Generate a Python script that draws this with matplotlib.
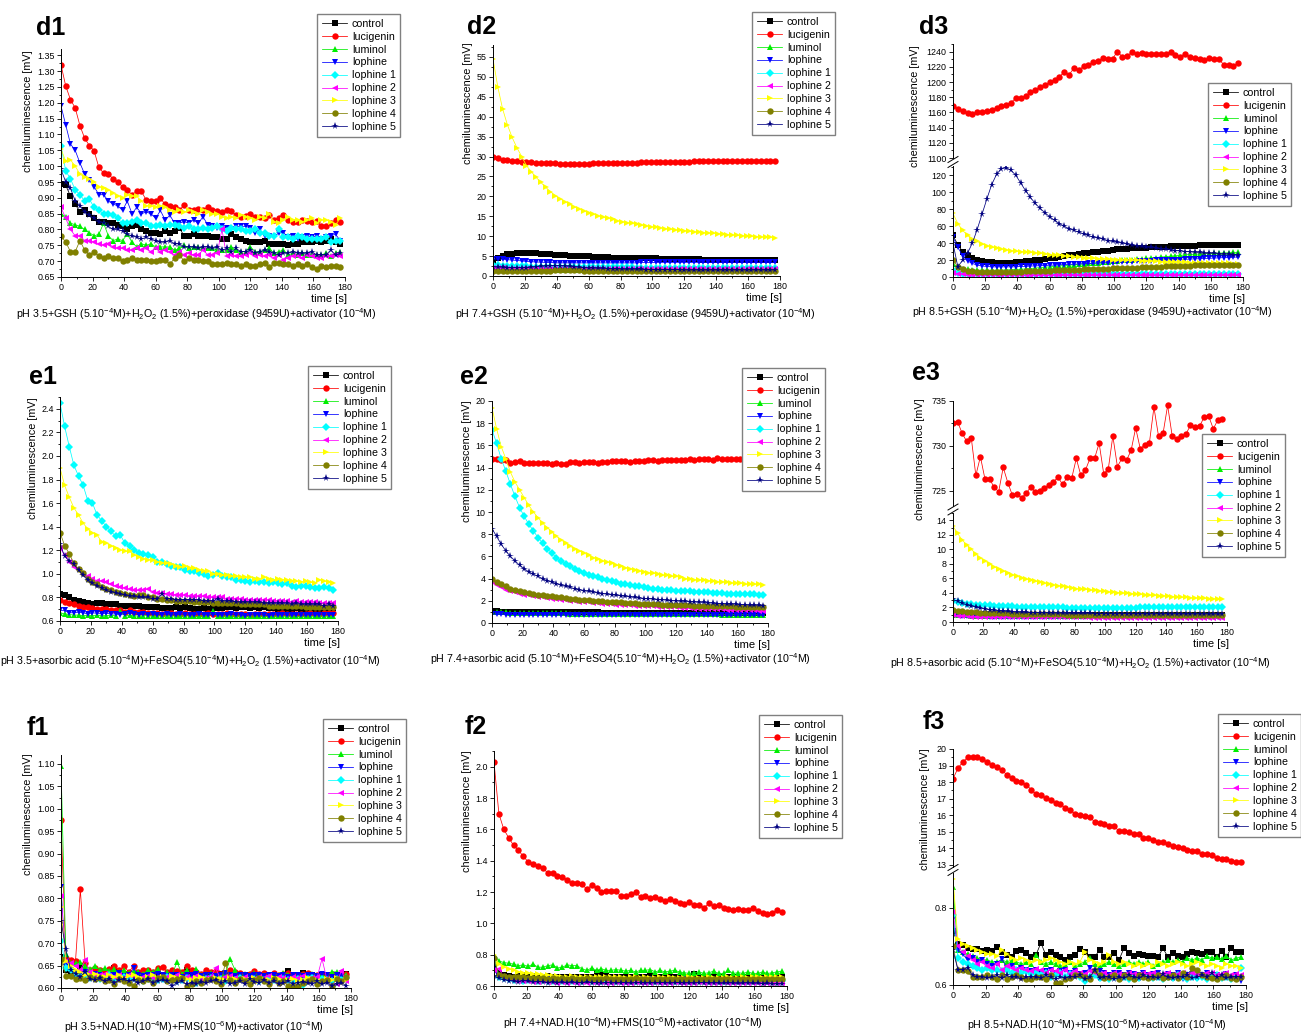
import numpy as np
import matplotlib.pyplot as plt
from matplotlib.lines import Line2D
from matplotlib.ticker import MultipleLocator

plt.rcParams['font.family'] = ['Liberation Sans', 'DejaVu Sans']
plt.rcParams['mathtext.default'] = 'regular'
plt.rcParams['axes.formatter.useoffset'] = False

W, H = 1301, 1035

names = ['control', 'lucigenin', 'luminol', 'lophine', 'lophine 1',
         'lophine 2', 'lophine 3', 'lophine 4', 'lophine 5']
colors = ['#000000', '#ff0000', '#00ee00', '#0000ff', '#00ffff',
          '#ff00ff', '#ffff00', '#808000', '#000080']
markers = ['s', 'o', '^', 'v', 'D', '<', '>', 'o', '*']
msizes = [4.2, 4.6, 4.6, 4.6, 4.0, 4.6, 4.6, 4.6, 5.6]

# ---------------- d1 ----------------
d1_control = [0.945,0.940,0.905,0.880,0.855,0.860,0.850,0.835,0.825,0.825,
              0.820,0.820,0.815,0.810,0.800,0.810,0.815,0.800,0.795,0.790,
              0.790,0.785,0.795,0.790,0.795,0.805,0.780,0.780,0.785,0.780,
              0.780,0.780,0.775,0.775,0.770,0.770,0.785,0.775,0.770,0.765,
              0.760,0.760,0.760,0.765,0.755,0.755,0.755,0.755,0.750,0.755,
              0.755,0.760,0.760,0.760,0.765,0.760,0.765,0.770,0.760,0.755]
d1_lucigenin = [1.320,1.253,1.210,1.184,1.128,1.088,1.065,1.048,0.996,0.978,
                0.975,0.960,0.950,0.935,0.925,0.910,0.920,0.920,0.893,0.890,
                0.890,0.898,0.880,0.875,0.870,0.860,0.878,0.860,0.860,0.865,
                0.860,0.872,0.862,0.858,0.855,0.862,0.858,0.845,0.840,0.842,
                0.850,0.840,0.840,0.835,0.845,0.830,0.835,0.845,0.830,0.825,
                0.823,0.830,0.828,0.823,0.828,0.810,0.812,0.820,0.830,0.825]
d1_luminol = [0.850,0.840,0.820,0.815,0.810,0.800,0.790,0.780,0.785,0.820,
              0.780,0.765,0.770,0.765,0.785,0.760,0.745,0.755,0.750,0.755,
              0.745,0.745,0.745,0.745,0.735,0.740,0.750,0.740,0.745,0.745,
              0.740,0.740,0.740,0.735,0.735,0.735,0.745,0.735,0.730,0.730,
              0.745,0.730,0.730,0.735,0.740,0.725,0.730,0.735,0.720,0.725,
              0.720,0.725,0.720,0.720,0.720,0.720,0.725,0.715,0.725,0.730]
d1_lophine = [1.190,1.130,1.070,1.050,1.010,0.975,0.955,0.935,0.910,0.910,
              0.890,0.880,0.875,0.860,0.890,0.850,0.870,0.850,0.855,0.850,
              0.835,0.860,0.830,0.845,0.820,0.820,0.825,0.820,0.830,0.820,
              0.840,0.815,0.810,0.805,0.810,0.805,0.800,0.810,0.810,0.810,
              0.805,0.790,0.800,0.780,0.780,0.775,0.790,0.790,0.775,0.780,
              0.770,0.775,0.780,0.775,0.780,0.770,0.775,0.780,0.785,0.765]
d1_lophine1 = [1.065,0.985,0.960,0.925,0.910,0.890,0.895,0.870,0.860,0.850,
               0.850,0.845,0.835,0.820,0.820,0.825,0.830,0.820,0.820,0.810,
               0.810,0.815,0.810,0.815,0.815,0.810,0.805,0.810,0.800,0.800,
               0.805,0.800,0.805,0.810,0.800,0.795,0.805,0.800,0.800,0.795,
               0.795,0.800,0.790,0.790,0.780,0.780,0.800,0.775,0.775,0.770,
               0.780,0.775,0.770,0.770,0.770,0.770,0.775,0.760,0.765,0.765]
d1_lophine2 = [0.870,0.835,0.800,0.780,0.780,0.765,0.765,0.760,0.755,0.750,
               0.755,0.745,0.740,0.740,0.735,0.735,0.740,0.735,0.740,0.730,
               0.740,0.730,0.735,0.730,0.720,0.730,0.720,0.725,0.720,0.720,
               0.735,0.720,0.720,0.725,0.800,0.715,0.720,0.715,0.715,0.720,
               0.725,0.715,0.720,0.715,0.720,0.710,0.720,0.705,0.710,0.715,
               0.715,0.710,0.720,0.715,0.710,0.710,0.715,0.715,0.720,0.715]
d1_lophine3 = [1.055,1.015,1.020,1.000,0.975,0.965,0.960,0.950,0.935,0.930,
               0.925,0.915,0.905,0.900,0.910,0.905,0.905,0.890,0.875,0.875,
               0.870,0.875,0.870,0.860,0.855,0.860,0.855,0.860,0.855,0.850,
               0.860,0.855,0.850,0.850,0.840,0.835,0.840,0.835,0.845,0.840,
               0.835,0.830,0.840,0.835,0.850,0.825,0.820,0.830,0.840,0.830,
               0.830,0.825,0.830,0.835,0.820,0.830,0.830,0.825,0.815,0.835]
d1_lophine4 = [0.780,0.760,0.730,0.730,0.765,0.735,0.720,0.730,0.715,0.710,
               0.715,0.710,0.710,0.700,0.705,0.710,0.705,0.705,0.705,0.700,
               0.700,0.705,0.705,0.690,0.710,0.720,0.700,0.710,0.705,0.705,
               0.700,0.700,0.690,0.690,0.690,0.695,0.690,0.690,0.685,0.690,
               0.685,0.685,0.690,0.695,0.680,0.695,0.695,0.690,0.690,0.685,
               0.690,0.685,0.690,0.680,0.675,0.685,0.680,0.685,0.685,0.680]
d1_lophine5 = [0.990,0.950,0.930,0.890,0.875,0.855,0.845,0.835,0.825,0.820,
               0.810,0.800,0.800,0.795,0.785,0.780,0.775,0.770,0.775,0.770,
               0.765,0.760,0.760,0.765,0.755,0.755,0.745,0.745,0.745,0.740,
               0.745,0.745,0.740,0.745,0.735,0.740,0.730,0.740,0.730,0.730,
               0.735,0.725,0.730,0.735,0.730,0.725,0.720,0.725,0.725,0.730,
               0.725,0.725,0.725,0.730,0.720,0.720,0.720,0.735,0.720,0.725]

# ---------------- d2 ----------------
d2_control = [3.5,4.5,5.0,5.4,5.6,5.7,5.8,5.8,5.8,5.7,
              5.6,5.5,5.4,5.3,5.3,5.2,5.1,5.0,5.0,4.9,
              4.9,4.8,4.8,4.7,4.7,4.6,4.6,4.6,4.5,4.5,
              4.5,4.4,4.4,4.4,4.4,4.3,4.3,4.3,4.3,4.2,
              4.2,4.2,4.2,4.2,4.1,4.1,4.1,4.1,4.1,4.0,
              4.0,4.0,4.0,4.0,4.0,3.9,3.9,3.9,3.9,3.9]
d2_lucigenin = [30.0,29.6,29.2,29.0,28.9,28.8,28.6,28.5,28.5,28.4,
                28.4,28.3,28.3,28.3,28.2,28.1,28.1,28.2,28.2,28.2,
                28.2,28.3,28.3,28.3,28.3,28.3,28.3,28.3,28.4,28.4,
                28.4,28.5,28.5,28.5,28.6,28.6,28.6,28.6,28.7,28.7,
                28.7,28.7,28.8,28.8,28.8,28.8,28.9,28.9,28.9,28.9,
                28.9,28.9,28.9,28.9,28.9,28.8,28.8,28.8,28.8,28.8]
d2_luminol = [1.7,1.6,1.6,1.55,1.5,1.5,1.5,1.5,1.5,1.5,
              1.5,1.5,1.5,1.5,1.5,1.5,1.5,1.5,1.5,1.5,
              1.5,1.5,1.5,1.5,1.5,1.5,1.5,1.5,1.5,1.5,
              1.5,1.5,1.5,1.5,1.5,1.5,1.5,1.5,1.5,1.5,
              1.5,1.5,1.5,1.5,1.5,1.5,1.5,1.5,1.5,1.5,
              1.5,1.5,1.5,1.5,1.5,1.5,1.5,1.5,1.5,1.5]
d2_lophine = [4.2,4.3,4.2,4.1,4.0,3.9,3.8,3.7,3.6,3.5,
              3.5,3.4,3.4,3.3,3.3,3.3,3.3,3.3,3.3,3.3,
              3.3,3.3,3.3,3.3,3.3,3.3,3.3,3.3,3.3,3.3,
              3.3,3.4,3.4,3.4,3.4,3.4,3.4,3.4,3.4,3.4,
              3.4,3.4,3.4,3.4,3.4,3.4,3.4,3.4,3.4,3.4,
              3.4,3.4,3.4,3.4,3.4,3.4,3.4,3.4,3.4,3.4]
d2_lophine1 = [2.8,2.7,2.6,2.5,2.5,2.4,2.4,2.4,2.3,2.3,
               2.3,2.3,2.3,2.2,2.2,2.2,2.2,2.2,2.2,2.2,
               2.2,2.2,2.2,2.2,2.2,2.2,2.2,2.2,2.2,2.2,
               2.1,2.1,2.1,2.1,2.1,2.1,2.1,2.1,2.1,2.1,
               2.1,2.1,2.1,2.1,2.1,2.1,2.1,2.1,2.1,2.1,
               2.1,2.1,2.1,2.1,2.1,2.1,2.1,2.1,2.1,2.1]
d2_lophine2 = [2.0,1.9,1.9,1.8,1.8,1.8,1.8,1.8,1.8,1.8,
               1.8,1.8,1.8,1.8,1.8,1.8,1.8,1.8,1.8,1.8,
               1.8,1.8,1.8,1.8,1.8,1.8,1.8,1.8,1.8,1.8,
               1.8,1.8,1.8,1.8,1.8,1.8,1.8,1.8,1.8,1.8,
               1.8,1.8,1.8,1.8,1.8,1.8,1.8,1.8,1.8,1.8,
               1.8,1.8,1.8,1.8,1.8,1.8,1.8,1.8,1.8,1.8]
d2_lophine3 = [54.5,47.5,42.0,38.0,34.8,32.2,30.0,27.7,26.2,24.8,
               23.5,22.3,21.2,20.2,19.4,18.7,18.0,17.4,16.8,16.3,
               15.9,15.5,15.1,14.8,14.5,14.2,13.9,13.6,13.4,13.2,
               13.0,12.8,12.6,12.4,12.2,12.1,11.9,11.8,11.6,11.5,
               11.4,11.2,11.1,11.0,10.9,10.8,10.7,10.6,10.5,10.4,
               10.3,10.2,10.1,10.0,10.0,9.9,9.8,9.8,9.7,9.6]
d2_lophine4 = [1.3,1.2,1.2,1.2,1.2,1.2,1.2,1.2,1.2,1.3,
               1.3,1.3,1.3,1.4,1.4,1.4,1.4,1.4,1.4,1.3,
               1.3,1.3,1.3,1.3,1.3,1.3,1.3,1.3,1.3,1.3,
               1.3,1.2,1.2,1.2,1.2,1.2,1.2,1.2,1.2,1.2,
               1.2,1.2,1.2,1.2,1.2,1.2,1.2,1.2,1.2,1.2,
               1.2,1.2,1.2,1.2,1.2,1.2,1.2,1.2,1.2,1.2]
d2_lophine5 = [2.3,2.2,2.2,2.1,2.1,2.1,2.1,2.1,2.2,2.3,
               2.4,2.5,2.6,2.6,2.6,2.5,2.4,2.3,2.2,2.1,
               2.0,2.0,1.9,1.9,1.8,1.8,1.8,1.7,1.7,1.7,
               1.7,1.7,1.6,1.6,1.6,1.6,1.6,1.6,1.6,1.6,
               1.5,1.5,1.5,1.5,1.5,1.5,1.5,1.5,1.5,1.5,
               1.5,1.5,1.5,1.5,1.5,1.5,1.5,1.5,1.5,1.5]

# ---------------- d3 ----------------
d3_control = [49,38,30,25,22,20,19,18,17.5,17,
              17,17,17,17.5,18,18.5,19,19.5,20,21,
              22,23,24,25,25.5,26.5,27.5,28,28.5,29.5,
              30,30.5,31,32,32.5,33,33.5,33.8,34.2,34.5,
              34.8,35,35.3,35.6,35.8,36,36.3,36.5,36.7,36.9,
              37.1,37.3,37.5,37.6,37.8,37.9,38,38.1,38.2,38.3]
d3_lucigenin = [1168.7,1164.3,1162.1,1159.0,1158.2,1160.0,1160.8,1162.0,1163.4,1165.6,
                1167.8,1170.0,1173.0,1178.7,1179.6,1181.8,1186.2,1189.7,1193.2,1195.4,
                1199.8,1202.8,1206.3,1213.8,1209.4,1218.1,1216.0,1220.4,1222.6,1225.7,
                1227.0,1231.3,1230.0,1230.4,1240.0,1233.4,1234.3,1239.1,1236.9,1237.8,
                1236.9,1236.5,1236.5,1236.9,1236.9,1239.1,1235.6,1233.4,1236.9,1233.4,
                1231.3,1230.8,1229.1,1231.3,1230.0,1230.0,1223.0,1222.0,1221.0,1225.0]
d3_luminol = [15,12,10,9,8.5,8,8,8,8,8,
              8,8.5,8.5,9,9,9.5,10,10.5,11,11.5,
              12,12.5,13,13.5,14,14.5,15,15.5,16,16.5,
              17,17.5,18,18.5,19,19.5,20,20.5,21,21.5,
              22,22.5,23,23.5,24,24.5,25,25.5,26,26.5,
              27,27,27.5,27.5,28,28,28.5,28.5,29,29]
d3_lophine = [47,35,25,19,16,14,13,12.5,12,12,
              12,12,12,12,12.5,12.5,13,13,13.5,13.5,
              14,14,14.5,14.5,15,15,15.5,15.5,16,16,
              16.5,16.5,17,17,17.5,17.5,18,18,18.5,18.5,
              19,19,19.5,19.5,20,20,20.5,20.5,21,21,
              21.5,21.5,22,22,22.5,22.5,23,23,23.5,23.5]
d3_lophine1 = [8,5,4,3.5,3.2,3,3,3,3,3,
               3,3,3,3,3,3,3,3,3,3,
               3,3,3,3,3,3,3,3,3,3,
               3,3,3,3,3,3,3,3,3,3,
               3,3,3.2,3.2,3.2,3.2,3.2,3.2,3.2,3.2,
               3.4,3.4,3.4,3.4,3.4,3.4,3.4,3.4,3.5,3.5]
d3_lophine2 = [5,4,3,2.5,2.2,2,2,2,2,2,
               2,2,2,2,2,1.9,1.9,1.9,1.9,1.9,
               1.9,1.9,1.9,1.9,1.9,1.8,1.8,1.8,1.8,1.8,
               1.8,1.8,1.8,1.8,1.8,1.8,1.8,1.8,1.8,1.8,
               1.8,1.8,1.8,1.8,1.8,1.8,1.8,1.8,1.8,1.8,
               1.8,1.8,1.8,1.8,1.8,1.8,1.8,1.8,1.8,1.8]
d3_lophine3 = [75,63,55,49,45,42,39,37,35.5,34,
               33,32,31,30.5,30,29.5,29,28.5,28,27.5,
               26.5,26,25.5,25,24.5,24,23.5,23,22.5,22,
               21.5,21.5,21,20.5,20.5,20,20,19.5,19.5,19,
               19,18.5,18.5,18,18,18,17.5,17.5,17.5,17,
               17,17,16.5,16.5,16.5,16,16,16,15.5,15.5]
d3_lophine4 = [20,12,9,7.5,6.5,6,5.5,5.5,5.5,5.5,
               5.5,5.8,6,6.2,6.4,6.6,6.8,7,7.2,7.4,
               7.6,7.8,8,8.2,8.4,8.6,8.8,9,9.2,9.4,
               9.6,9.8,10,10.2,10.4,10.6,10.8,11,11.2,11.4,
               11.6,11.8,12,12.2,12.4,12.6,12.8,13,13.2,13.4,
               13.6,13.8,14,14.1,14.2,14.3,14.4,14.5,14.6,14.7]
d3_lophine5 = [40,12,20,28,40,56,74,92,109,121,
               128,129,126,120,111,102,94,87,81,76,
               71,67,63,60,57,55,53,51,49,47,
               46,45,43,42,41,40,39,38,37,36,
               35,35,34,33,33,32,31,31,30,30,
               29,29,28,28,28,27,27,27,26,26]

# ---------------- e1 ----------------
e1_control = [0.83,0.82,0.80,0.78,0.77,0.76,0.75,0.74,0.75,0.75,
              0.74,0.74,0.74,0.73,0.73,0.73,0.73,0.73,0.72,0.72,
              0.72,0.72,0.71,0.71,0.71,0.72,0.71,0.72,0.71,0.70,
              0.70,0.71,0.70,0.71,0.71,0.71,0.72,0.72,0.71,0.72,
              0.72,0.71,0.72,0.71,0.72,0.71,0.71,0.70,0.71,0.70,
              0.70,0.71,0.70,0.70,0.71,0.70,0.70,0.70,0.70,0.71]
e1_lucigenin = [0.78,0.76,0.75,0.74,0.73,0.72,0.72,0.71,0.70,0.70,
                0.70,0.69,0.69,0.69,0.68,0.69,0.68,0.68,0.68,0.67,
                0.67,0.67,0.66,0.67,0.67,0.66,0.66,0.67,0.66,0.66,
                0.66,0.66,0.67,0.66,0.66,0.66,0.67,0.66,0.66,0.66,
                0.66,0.65,0.66,0.66,0.66,0.66,0.66,0.66,0.67,0.66,
                0.66,0.66,0.66,0.66,0.67,0.66,0.66,0.67,0.67,0.67]
e1_luminol = [0.670,0.660,0.655,0.650,0.650,0.645,0.650,0.645,0.650,0.645,
              0.645,0.650,0.645,0.685,0.645,0.650,0.645,0.640,0.645,0.645,
              0.640,0.645,0.640,0.645,0.645,0.640,0.645,0.640,0.645,0.640,
              0.640,0.645,0.640,0.685,0.640,0.645,0.640,0.645,0.640,0.645,
              0.640,0.640,0.645,0.640,0.645,0.640,0.640,0.645,0.640,0.640,
              0.645,0.640,0.640,0.645,0.640,0.640,0.645,0.640,0.640,0.640]
e1_lophine = [0.690,0.690,0.670,0.670,0.675,0.670,0.660,0.670,0.665,0.660,
              0.665,0.660,0.660,0.655,0.660,0.665,0.660,0.655,0.660,0.655,
              0.660,0.655,0.655,0.660,0.655,0.650,0.660,0.655,0.650,0.655,
              0.660,0.655,0.650,0.655,0.655,0.650,0.655,0.660,0.650,0.655,
              0.640,0.655,0.650,0.655,0.650,0.645,0.655,0.650,0.655,0.650,
              0.650,0.655,0.650,0.650,0.655,0.650,0.655,0.650,0.655,0.655]
e1_lophine1 = [2.45,2.25,2.08,1.92,1.83,1.75,1.62,1.60,1.50,1.45,
               1.40,1.36,1.32,1.33,1.26,1.24,1.20,1.18,1.17,1.16,
               1.14,1.10,1.10,1.08,1.07,1.06,1.06,1.03,1.02,1.02,
               1.01,1.00,0.98,0.99,1.01,0.98,0.97,0.97,0.95,0.95,
               0.94,0.93,0.94,0.93,0.93,0.92,0.93,0.92,0.91,0.92,
               0.90,0.89,0.90,0.90,0.89,0.88,0.88,0.89,0.88,0.86]
e1_lophine2 = [1.22,1.16,1.10,1.06,1.03,1.00,0.98,0.96,0.94,0.94,
               0.93,0.91,0.90,0.89,0.88,0.87,0.86,0.86,0.86,0.87,
               0.85,0.84,0.84,0.83,0.83,0.82,0.82,0.82,0.81,0.81,
               0.81,0.81,0.80,0.80,0.80,0.80,0.79,0.79,0.79,0.79,
               0.78,0.78,0.78,0.78,0.78,0.78,0.77,0.77,0.77,0.77,
               0.76,0.77,0.76,0.76,0.76,0.76,0.75,0.75,0.75,0.75]
e1_lophine3 = [1.90,1.75,1.65,1.56,1.50,1.43,1.38,1.35,1.33,1.27,
               1.26,1.24,1.22,1.20,1.19,1.19,1.16,1.14,1.13,1.12,
               1.12,1.10,1.09,1.09,1.08,1.07,1.06,1.07,1.05,1.05,
               1.03,1.02,1.02,1.00,1.00,0.99,0.99,0.98,0.98,0.97,
               0.97,0.97,0.96,0.96,0.97,0.96,0.95,0.96,0.95,0.95,
               0.94,0.94,0.93,0.94,0.93,0.92,0.95,0.94,0.93,0.92]
e1_lophine4 = [1.35,1.24,1.17,1.09,1.04,1.01,0.96,0.93,0.91,0.89,
               0.87,0.86,0.85,0.84,0.83,0.82,0.81,0.82,0.82,0.80,
               0.80,0.79,0.79,0.78,0.78,0.77,0.77,0.77,0.77,0.76,
               0.76,0.76,0.76,0.75,0.75,0.75,0.75,0.75,0.75,0.74,
               0.74,0.74,0.74,0.74,0.74,0.73,0.73,0.73,0.73,0.73,
               0.73,0.73,0.73,0.72,0.72,0.72,0.72,0.72,0.72,0.72]
e1_lophine5 = [1.25,1.15,1.11,1.08,1.03,0.99,0.95,0.92,0.90,0.88,
               0.86,0.85,0.84,0.83,0.82,0.81,0.81,0.80,0.80,0.80,
               0.79,0.79,0.83,0.79,0.79,0.78,0.78,0.78,0.78,0.78,
               0.78,0.77,0.77,0.77,0.79,0.77,0.77,0.77,0.76,0.76,
               0.76,0.76,0.76,0.76,0.75,0.75,0.75,0.75,0.75,0.75,
               0.74,0.75,0.74,0.74,0.74,0.74,0.74,0.73,0.74,0.73]

# ---------------- e2 ----------------
e2_control = [1.05,1.05,1.03,1.02,1.02,1.01,1.00,1.00,1.00,0.99,
              0.99,0.98,0.98,0.98,0.97,0.97,0.97,0.96,0.96,0.96,
              0.95,0.95,0.95,0.95,0.94,0.94,0.94,0.94,0.93,0.93,
              0.93,0.93,0.93,0.92,0.92,0.92,0.92,0.92,0.91,0.91,
              0.91,0.91,0.91,0.90,0.90,0.90,0.90,0.90,0.90,0.89,
              0.89,0.89,0.89,0.89,0.89,0.88,0.88,0.88,0.88,0.88]
e2_lucigenin = [14.8,14.8,14.7,14.7,14.4,14.5,14.6,14.4,14.4,14.4,
                14.4,14.4,14.4,14.3,14.4,14.3,14.3,14.5,14.5,14.4,
                14.5,14.5,14.5,14.4,14.5,14.5,14.6,14.6,14.6,14.6,
                14.5,14.6,14.6,14.6,14.7,14.7,14.6,14.7,14.7,14.7,
                14.7,14.7,14.7,14.8,14.7,14.8,14.8,14.8,14.7,14.9,
                14.8,14.8,14.8,14.8,14.8,14.8,14.8,14.8,14.9,14.8]
e2_luminol = [1.00,0.98,0.96,0.95,0.94,0.93,0.92,0.91,0.90,0.90,
              0.89,0.88,0.88,0.87,0.87,0.86,0.86,0.85,0.85,0.85,
              0.84,0.84,0.83,0.83,0.83,0.82,0.82,0.82,0.81,0.81,
              0.81,0.81,0.80,0.80,0.80,0.80,0.79,0.79,0.79,0.79,
              0.78,0.78,0.78,0.78,0.78,0.77,0.77,0.77,0.77,0.77,
              0.76,0.76,0.76,0.76,0.76,0.76,0.75,0.75,0.75,0.75]
e2_lophine = [0.80,0.78,0.77,0.76,0.76,0.75,0.75,0.75,0.74,0.74,
              0.74,0.74,0.73,0.73,0.73,0.73,0.73,0.72,0.72,0.72,
              0.72,0.72,0.72,0.71,0.71,0.71,0.71,0.71,0.71,0.71,
              0.71,0.70,0.70,0.70,0.70,0.70,0.70,0.70,0.70,0.70,
              0.70,0.70,0.70,0.70,0.70,0.70,0.70,0.70,0.70,0.70,
              0.70,0.70,0.70,0.70,0.70,0.70,0.70,0.70,0.70,0.70]
e2_lophine1 = [17.4,16.2,14.8,13.7,12.5,11.4,10.4,9.6,8.9,8.3,
               7.7,7.2,6.7,6.3,5.9,5.6,5.3,5.1,4.9,4.7,
               4.5,4.35,4.2,4.1,3.95,3.85,3.75,3.65,3.55,3.5,
               3.4,3.35,3.3,3.2,3.15,3.1,3.05,3.0,3.0,2.95,
               2.9,2.9,2.85,2.85,2.8,2.8,2.75,2.75,2.7,2.7,
               2.7,2.65,2.65,2.65,2.6,2.6,2.6,2.6,2.55,2.55]
e2_lophine2 = [3.7,3.4,3.2,3.0,2.9,2.75,2.65,2.55,2.5,2.4,
               2.35,2.3,2.25,2.2,2.15,2.1,2.05,2.0,1.95,1.9,
               1.9,1.85,1.8,1.8,1.75,1.7,1.7,1.65,1.65,1.6,
               1.6,1.55,1.55,1.5,1.5,1.5,1.45,1.45,1.4,1.4,
               1.4,1.35,1.35,1.35,1.3,1.3,1.3,1.3,1.25,1.25,
               1.25,1.2,1.2,1.2,1.2,1.15,1.15,1.15,1.1,1.1]
e2_lophine3 = [19.4,17.5,15.9,14.8,13.6,12.7,12.0,11.3,10.6,10.0,
               9.5,9.0,8.6,8.2,7.8,7.5,7.2,6.9,6.7,6.5,
               6.3,6.1,5.9,5.8,5.6,5.5,5.4,5.2,5.1,5.0,
               4.9,4.8,4.7,4.6,4.5,4.5,4.4,4.3,4.3,4.2,
               4.2,4.1,4.0,4.0,3.9,3.9,3.9,3.8,3.8,3.7,
               3.7,3.7,3.6,3.6,3.6,3.5,3.5,3.5,3.5,3.4]
e2_lophine4 = [4.0,3.7,3.5,3.3,3.1,3.0,2.9,2.8,2.7,2.6,
               2.55,2.5,2.45,2.4,2.35,2.3,2.25,2.2,2.15,2.1,
               2.1,2.05,2.0,2.0,1.95,1.9,1.9,1.85,1.85,1.8,
               1.8,1.8,1.75,1.75,1.7,1.7,1.7,1.65,1.65,1.65,
               1.6,1.6,1.6,1.6,1.55,1.55,1.55,1.55,1.5,1.5,
               1.5,1.5,1.5,1.45,1.45,1.45,1.45,1.45,1.4,1.4]
e2_lophine5 = [8.5,7.8,7.1,6.5,6.0,5.6,5.2,4.9,4.6,4.4,
               4.2,4.0,3.8,3.7,3.55,3.4,3.3,3.2,3.1,3.0,
               2.9,2.85,2.8,2.7,2.65,2.6,2.55,2.5,2.45,2.4,
               2.35,2.3,2.25,2.2,2.2,2.15,2.1,2.1,2.05,2.0,
               2.0,1.95,1.95,1.9,1.9,1.85,1.85,1.8,1.8,1.75,
               1.75,1.7,1.7,1.7,1.65,1.65,1.6,1.6,1.6,1.55]

# ---------------- e3 ----------------
e3_control = [1.20,1.15,1.12,1.10,1.08,1.07,1.06,1.05,1.05,1.04,
              1.04,1.03,1.03,1.03,1.02,1.02,1.02,1.02,1.01,1.01,
              1.01,1.01,1.01,1.00,1.00,1.00,1.00,1.00,1.00,1.00,
              1.00,1.00,1.00,1.00,1.00,1.00,1.00,1.00,1.00,1.00,
              1.00,1.00,1.00,1.00,1.00,1.00,1.00,1.00,1.00,1.00,
              1.00,1.00,1.00,1.00,1.00,1.00,1.00,1.00,1.00,1.00]
e3_lucigenin = [732.6,732.7,731.4,730.5,730.9,726.7,728.8,726.3,726.3,725.4,
                724.9,727.6,725.9,724.5,724.6,724.2,724.7,725.4,724.9,725.0,
                725.3,725.6,726.0,726.5,725.7,726.5,726.4,728.6,726.7,727.3,
                728.6,728.6,730.3,726.9,727.4,731.1,727.7,728.6,728.4,729.5,
                732.0,729.7,730.1,730.3,734.3,731.1,731.4,734.5,731.1,730.8,
                731.1,731.3,732.3,732.1,732.2,733.2,733.3,731.9,732.9,733.0]
e3_luminol = [1.00,0.96,0.93,0.90,0.88,0.87,0.86,0.85,0.84,0.84,
              0.83,0.83,0.83,0.82,0.82,0.82,0.82,0.81,0.81,0.81,
              0.81,0.81,0.80,0.80,0.80,0.80,0.80,0.80,0.80,0.80,
              0.80,0.80,0.80,0.80,0.80,0.80,0.80,0.80,0.80,0.80,
              0.80,0.80,0.80,0.80,0.80,0.80,0.80,0.80,0.80,0.80,
              0.80,0.80,0.80,0.80,0.80,0.80,0.80,0.80,0.80,0.80]
e3_lophine = [1.00,0.90,0.85,0.82,0.80,0.78,0.77,0.76,0.75,0.75,
              0.74,0.74,0.73,0.73,0.73,0.72,0.72,0.72,0.72,0.72,
              0.71,0.71,0.71,0.71,0.71,0.71,0.71,0.70,0.70,0.70,
              0.70,0.70,0.70,0.70,0.70,0.70,0.70,0.70,0.70,0.70,
              0.70,0.70,0.70,0.70,0.70,0.70,0.70,0.70,0.70,0.70,
              0.70,0.70,0.70,0.70,0.70,0.70,0.70,0.70,0.70,0.70]
e3_lophine1 = [2.9,2.75,2.6,2.5,2.45,2.4,2.35,2.3,2.3,2.25,
               2.2,2.2,2.15,2.15,2.1,2.1,2.1,2.05,2.05,2.05,
               2.0,2.0,2.0,2.0,2.0,1.95,1.95,1.95,1.95,1.95,
               1.95,1.95,1.95,1.95,1.95,1.95,1.95,1.95,1.95,1.95,
               1.95,2.0,2.0,2.0,2.0,2.0,2.0,2.0,2.0,2.0,
               2.0,2.0,2.0,2.05,2.05,2.05,2.05,2.05,2.05,2.05]
e3_lophine2 = [0.90,0.85,0.80,0.78,0.75,0.73,0.72,0.70,0.69,0.68,
               0.67,0.67,0.66,0.66,0.65,0.65,0.65,0.64,0.64,0.64,
               0.63,0.63,0.63,0.63,0.62,0.62,0.62,0.62,0.62,0.62,
               0.61,0.61,0.61,0.61,0.61,0.61,0.61,0.61,0.61,0.61,
               0.60,0.60,0.60,0.60,0.60,0.60,0.60,0.60,0.60,0.60,
               0.60,0.60,0.60,0.60,0.60,0.60,0.60,0.60,0.60,0.60]
e3_lophine3 = [13.2,12.2,11.3,10.6,10.0,9.4,8.8,8.4,8.0,7.6,
               7.3,7.0,6.8,6.5,6.3,6.1,5.9,5.8,5.6,5.5,
               5.3,5.2,5.1,5.0,4.9,4.8,4.7,4.6,4.55,4.5,
               4.4,4.35,4.3,4.2,4.15,4.1,4.05,4.0,3.95,3.9,
               3.85,3.8,3.75,3.7,3.65,3.6,3.6,3.55,3.5,3.45,
               3.4,3.4,3.35,3.3,3.3,3.25,3.2,3.2,3.15,3.1]
e3_lophine4 = [1.60,1.50,1.45,1.40,1.35,1.32,1.30,1.27,1.25,1.22,
               1.20,1.18,1.17,1.15,1.14,1.12,1.11,1.10,1.09,1.08,
               1.07,1.06,1.05,1.05,1.04,1.03,1.03,1.02,1.02,1.01,
               1.01,1.00,1.00,1.00,0.99,0.99,0.99,0.98,0.98,0.98,
               0.97,0.97,0.97,0.97,0.96,0.96,0.96,0.96,0.95,0.95,
               0.95,0.95,0.95,0.94,0.94,0.94,0.94,0.94,0.93,0.93]
e3_lophine5 = [3.1,2.85,2.6,2.4,2.2,2.05,1.9,1.8,1.7,1.6,
               1.55,1.5,1.45,1.4,1.38,1.35,1.32,1.3,1.28,1.26,
               1.25,1.24,1.23,1.22,1.21,1.2,1.19,1.18,1.18,1.17,
               1.17,1.16,1.16,1.15,1.15,1.15,1.14,1.14,1.14,1.13,
               1.13,1.13,1.12,1.12,1.12,1.12,1.11,1.11,1.11,1.11,
               1.1,1.1,1.1,1.1,1.1,1.1,1.09,1.09,1.09,1.09]

# ---------------- f1 ----------------
f1_control = [0.670,0.640,0.635,0.630,0.648,0.632,0.628,0.630,0.625,0.628,
              0.622,0.645,0.630,0.628,0.632,0.625,0.630,0.628,0.632,0.625,
              0.628,0.626,0.630,0.625,0.628,0.630,0.640,0.626,0.630,0.625,
              0.628,0.625,0.630,0.632,0.624,0.628,0.626,0.630,0.625,0.628,
              0.630,0.626,0.625,0.628,0.630,0.626,0.624,0.638,0.630,0.628,
              0.634,0.628,0.630,0.626,0.628,0.625,0.630,0.628,0.626,0.632]
f1_lucigenin = [0.975,0.668,0.662,0.660,0.820,0.655,0.640,0.645,0.640,0.638,
                0.642,0.648,0.640,0.649,0.636,0.648,0.635,0.640,0.641,0.636,
                0.645,0.646,0.636,0.640,0.638,0.636,0.648,0.640,0.635,0.632,
                0.640,0.636,0.638,0.632,0.630,0.640,0.636,0.634,0.630,0.632,
                0.638,0.632,0.634,0.630,0.634,0.630,0.632,0.634,0.630,0.628,
                0.632,0.634,0.630,0.628,0.630,0.630,0.632,0.628,0.630,0.632]
f1_luminol = [1.095,0.675,0.655,0.655,0.657,0.650,0.642,0.650,0.640,0.645,
              0.638,0.642,0.636,0.640,0.634,0.638,0.635,0.632,0.640,0.635,
              0.643,0.630,0.636,0.630,0.658,0.632,0.640,0.630,0.642,0.628,
              0.632,0.634,0.628,0.630,0.632,0.665,0.640,0.628,0.632,0.630,
              0.634,0.628,0.630,0.626,0.630,0.628,0.634,0.630,0.626,0.628,
              0.630,0.628,0.632,0.626,0.628,0.630,0.636,0.636,0.628,0.630]
f1_lophine = [0.825,0.650,0.640,0.632,0.630,0.635,0.628,0.632,0.630,0.626,
              0.628,0.630,0.634,0.626,0.628,0.644,0.630,0.626,0.628,0.630,
              0.632,0.628,0.626,0.630,0.628,0.625,0.630,0.628,0.632,0.626,
              0.628,0.630,0.626,0.628,0.634,0.630,0.626,0.628,0.630,0.626,
              0.628,0.630,0.626,0.628,0.630,0.626,0.628,0.625,0.630,0.628,
              0.626,0.630,0.628,0.626,0.632,0.628,0.625,0.630,0.626,0.622]
f1_lophine1 = [0.705,0.645,0.640,0.630,0.625,0.628,0.622,0.625,0.620,0.624,
               0.628,0.620,0.622,0.625,0.618,0.622,0.620,0.615,0.620,0.622,
               0.618,0.620,0.625,0.620,0.615,0.618,0.622,0.615,0.612,0.618,
               0.620,0.622,0.618,0.620,0.615,0.620,0.618,0.622,0.615,0.618,
               0.620,0.615,0.618,0.622,0.618,0.615,0.620,0.618,0.615,0.620,
               0.607,0.620,0.622,0.618,0.620,0.618,0.615,0.620,0.618,0.622]
f1_lophine2 = [0.805,0.660,0.655,0.648,0.640,0.662,0.635,0.630,0.628,0.632,
               0.626,0.624,0.628,0.622,0.630,0.625,0.620,0.624,0.626,0.622,
               0.624,0.620,0.625,0.622,0.628,0.620,0.624,0.622,0.626,0.620,
               0.622,0.625,0.644,0.620,0.624,0.626,0.622,0.620,0.625,0.622,
               0.620,0.624,0.622,0.626,0.620,0.624,0.622,0.620,0.624,0.622,
               0.626,0.620,0.622,0.624,0.665,0.620,0.605,0.610,0.638,0.615]
f1_lophine3 = [0.780,0.660,0.648,0.640,0.635,0.630,0.628,0.632,0.626,0.624,
               0.630,0.625,0.628,0.622,0.626,0.628,0.624,0.620,0.625,0.628,
               0.622,0.624,0.620,0.626,0.622,0.624,0.620,0.618,0.622,0.624,
               0.620,0.618,0.622,0.620,0.618,0.622,0.620,0.616,0.620,0.618,
               0.622,0.616,0.620,0.618,0.622,0.620,0.616,0.618,0.620,0.616,
               0.618,0.622,0.620,0.618,0.616,0.620,0.618,0.622,0.616,0.618]
f1_lophine4 = [0.665,0.627,0.626,0.620,0.622,0.618,0.625,0.620,0.622,0.615,
               0.618,0.610,0.620,0.615,0.612,0.605,0.618,0.615,0.620,0.612,
               0.622,0.625,0.615,0.618,0.620,0.622,0.605,0.610,0.615,0.612,
               0.618,0.620,0.615,0.610,0.655,0.618,0.612,0.620,0.615,0.610,
               0.618,0.622,0.615,0.610,0.620,0.612,0.615,0.605,0.605,0.605,
               0.612,0.615,0.620,0.610,0.615,0.618,0.605,0.620,0.615,0.625]
f1_lophine5 = [0.750,0.687,0.640,0.632,0.625,0.636,0.620,0.618,0.622,0.615,
               0.620,0.612,0.618,0.620,0.615,0.618,0.612,0.616,0.620,0.612,
               0.616,0.618,0.615,0.605,0.612,0.615,0.608,0.612,0.610,0.614,
               0.612,0.615,0.618,0.612,0.615,0.610,0.612,0.615,0.610,0.620,
               0.614,0.612,0.618,0.612,0.615,0.610,0.612,0.615,0.610,0.612,
               0.614,0.612,0.610,0.615,0.608,0.612,0.605,0.610,0.612,0.605]

# ---------------- f2 ----------------
f2_control = [0.720,0.680,0.670,0.665,0.660,0.665,0.670,0.660,0.665,0.660,
              0.660,0.665,0.660,0.655,0.660,0.660,0.655,0.660,0.655,0.660,
              0.660,0.680,0.670,0.665,0.660,0.660,0.655,0.660,0.655,0.660,
              0.660,0.655,0.665,0.660,0.660,0.655,0.660,0.655,0.660,0.655,
              0.660,0.675,0.660,0.655,0.660,0.655,0.660,0.655,0.660,0.655,
              0.660,0.655,0.660,0.655,0.660,0.655,0.660,0.655,0.660,0.660]
f2_lucigenin = [2.030,1.700,1.600,1.547,1.498,1.466,1.428,1.392,1.381,1.369,
                1.352,1.322,1.322,1.305,1.296,1.279,1.258,1.258,1.250,1.218,
                1.243,1.228,1.197,1.207,1.205,1.205,1.173,1.173,1.186,1.197,
                1.169,1.175,1.163,1.165,1.156,1.144,1.154,1.144,1.127,1.125,
                1.133,1.120,1.116,1.101,1.127,1.110,1.116,1.099,1.090,1.084,
                1.090,1.084,1.088,1.099,1.080,1.063,1.059,1.067,1.084,1.073]
f2_luminol = [0.800,0.760,0.750,0.745,0.740,0.730,0.735,0.725,0.740,0.720,
              0.720,0.730,0.735,0.715,0.720,0.735,0.730,0.730,0.710,0.700,
              0.715,0.700,0.710,0.700,0.700,0.705,0.700,0.695,0.700,0.690,
              0.700,0.700,0.705,0.690,0.700,0.690,0.695,0.700,0.690,0.685,
              0.680,0.685,0.690,0.680,0.685,0.695,0.680,0.680,0.700,0.680,
              0.685,0.680,0.690,0.680,0.680,0.690,0.680,0.685,0.690,0.695]
f2_lophine = [0.700,0.660,0.650,0.645,0.645,0.640,0.645,0.640,0.640,0.645,
              0.640,0.642,0.638,0.640,0.645,0.638,0.640,0.636,0.640,0.642,
              0.638,0.640,0.636,0.640,0.638,0.642,0.636,0.640,0.638,0.636,
              0.640,0.638,0.642,0.636,0.640,0.638,0.636,0.640,0.638,0.642,
              0.636,0.640,0.638,0.636,0.640,0.638,0.636,0.640,0.642,0.636,
              0.640,0.638,0.636,0.640,0.638,0.636,0.640,0.638,0.636,0.640]
f2_lophine1 = [0.780,0.660,0.650,0.645,0.640,0.645,0.635,0.640,0.636,0.632,
               0.640,0.634,0.630,0.636,0.632,0.638,0.630,0.634,0.632,0.636,
               0.630,0.634,0.632,0.630,0.636,0.632,0.630,0.634,0.632,0.630,
               0.636,0.632,0.630,0.634,0.632,0.630,0.636,0.632,0.630,0.634,
               0.632,0.630,0.636,0.632,0.630,0.634,0.632,0.630,0.636,0.632,
               0.630,0.634,0.632,0.630,0.636,0.632,0.630,0.634,0.632,0.630]
f2_lophine2 = [0.700,0.710,0.660,0.650,0.640,0.635,0.630,0.632,0.628,0.626,
               0.630,0.624,0.628,0.622,0.626,0.620,0.624,0.622,0.626,0.620,
               0.624,0.622,0.626,0.620,0.622,0.624,0.618,0.622,0.620,0.624,
               0.618,0.622,0.620,0.624,0.618,0.622,0.620,0.624,0.618,0.622,
               0.620,0.618,0.624,0.620,0.622,0.618,0.620,0.624,0.618,0.622,
               0.620,0.618,0.622,0.620,0.618,0.622,0.620,0.618,0.622,0.620]
f2_lophine3 = [0.800,0.740,0.720,0.710,0.700,0.690,0.685,0.680,0.675,0.675,
               0.670,0.670,0.665,0.665,0.660,0.660,0.662,0.658,0.660,0.656,
               0.660,0.655,0.658,0.655,0.660,0.655,0.656,0.652,0.658,0.655,
               0.652,0.656,0.654,0.650,0.656,0.652,0.655,0.650,0.654,0.652,
               0.655,0.650,0.654,0.652,0.656,0.650,0.654,0.652,0.656,0.650,
               0.654,0.656,0.652,0.655,0.658,0.654,0.656,0.658,0.655,0.660]
f2_lophine4 = [0.780,0.670,0.665,0.660,0.660,0.655,0.655,0.650,0.652,0.648,
               0.650,0.646,0.650,0.645,0.648,0.645,0.650,0.644,0.646,0.648,
               0.644,0.646,0.642,0.648,0.644,0.646,0.642,0.645,0.644,0.648,
               0.642,0.645,0.644,0.646,0.642,0.645,0.644,0.646,0.642,0.645,
               0.644,0.642,0.646,0.644,0.642,0.645,0.644,0.642,0.646,0.644,
               0.642,0.645,0.644,0.642,0.646,0.644,0.642,0.645,0.644,0.646]
f2_lophine5 = [0.665,0.648,0.640,0.635,0.630,0.628,0.635,0.630,0.625,0.628,
               0.625,0.622,0.626,0.622,0.624,0.620,0.624,0.622,0.620,0.624,
               0.620,0.622,0.618,0.622,0.620,0.618,0.622,0.620,0.618,0.620,
               0.622,0.618,0.620,0.618,0.622,0.620,0.618,0.620,0.622,0.618,
               0.620,0.618,0.620,0.622,0.618,0.620,0.618,0.616,0.620,0.618,
               0.616,0.618,0.620,0.616,0.618,0.614,0.616,0.612,0.614,0.612]

# ---------------- f3 ----------------
f3_control = [0.740,0.706,0.703,0.697,0.692,0.694,0.688,0.690,0.689,0.699,
              0.686,0.678,0.673,0.689,0.690,0.682,0.673,0.678,0.709,0.678,
              0.686,0.678,0.673,0.665,0.673,0.678,0.692,0.686,0.673,0.673,
              0.690,0.673,0.673,0.684,0.665,0.695,0.684,0.675,0.680,0.678,
              0.676,0.676,0.673,0.695,0.673,0.684,0.676,0.673,0.679,0.686,
              0.684,0.680,0.686,0.686,0.673,0.689,0.673,0.697,0.686,0.686]
f3_lucigenin = [18.19,18.83,19.21,19.50,19.50,19.50,19.40,19.19,19.05,18.89,
                18.71,18.45,18.25,18.08,17.98,17.84,17.54,17.28,17.22,17.02,
                16.94,16.72,16.67,16.43,16.29,16.09,16.03,15.93,15.85,15.60,
                15.52,15.46,15.32,15.32,15.02,15.06,14.96,14.86,14.84,14.61,
                14.59,14.47,14.39,14.39,14.23,14.13,14.09,13.99,13.91,13.81,
                13.79,13.63,13.63,13.56,13.42,13.34,13.32,13.22,13.14,13.14]
f3_luminol = [0.855,0.690,0.685,0.680,0.675,0.670,0.665,0.665,0.660,0.660,
              0.665,0.660,0.665,0.660,0.655,0.660,0.655,0.678,0.660,0.655,
              0.660,0.655,0.650,0.655,0.660,0.650,0.655,0.660,0.670,0.655,
              0.650,0.655,0.660,0.655,0.650,0.655,0.660,0.655,0.660,0.655,
              0.660,0.650,0.655,0.660,0.665,0.660,0.665,0.660,0.670,0.665,
              0.670,0.665,0.675,0.670,0.672,0.668,0.675,0.665,0.670,0.672]
f3_lophine = [0.770,0.690,0.680,0.665,0.670,0.660,0.665,0.655,0.650,0.655,
              0.668,0.645,0.650,0.640,0.645,0.640,0.635,0.640,0.630,0.635,
              0.640,0.630,0.635,0.640,0.630,0.635,0.628,0.630,0.645,0.628,
              0.635,0.630,0.625,0.630,0.632,0.625,0.630,0.628,0.625,0.630,
              0.625,0.628,0.630,0.620,0.628,0.625,0.630,0.615,0.625,0.628,
              0.620,0.625,0.630,0.622,0.625,0.620,0.628,0.622,0.625,0.610]
f3_lophine1 = [0.780,0.670,0.660,0.655,0.650,0.645,0.640,0.645,0.638,0.640,
               0.635,0.640,0.632,0.638,0.630,0.635,0.628,0.632,0.625,0.630,
               0.620,0.625,0.630,0.622,0.628,0.625,0.620,0.610,0.622,0.625,
               0.618,0.620,0.615,0.620,0.618,0.622,0.615,0.620,0.618,0.625,
               0.620,0.618,0.622,0.615,0.620,0.618,0.625,0.620,0.615,0.620,
               0.618,0.622,0.615,0.620,0.625,0.618,0.620,0.615,0.622,0.645]
f3_lophine2 = [0.790,0.700,0.685,0.675,0.665,0.655,0.660,0.650,0.645,0.655,
               0.640,0.650,0.645,0.640,0.645,0.640,0.635,0.642,0.638,0.632,
               0.640,0.635,0.632,0.638,0.628,0.635,0.632,0.628,0.635,0.630,
               0.628,0.632,0.625,0.630,0.628,0.625,0.632,0.628,0.625,0.630,
               0.628,0.632,0.625,0.628,0.630,0.625,0.628,0.632,0.625,0.630,
               0.628,0.625,0.630,0.632,0.625,0.628,0.630,0.625,0.628,0.625]
f3_lophine3 = [0.875,0.720,0.705,0.700,0.695,0.690,0.685,0.680,0.680,0.675,
               0.690,0.680,0.670,0.665,0.670,0.665,0.660,0.665,0.660,0.665,
               0.670,0.665,0.660,0.655,0.660,0.655,0.660,0.685,0.665,0.660,
               0.655,0.660,0.678,0.660,0.655,0.660,0.655,0.650,0.655,0.650,
               0.655,0.650,0.660,0.655,0.650,0.655,0.660,0.655,0.650,0.655,
               0.660,0.655,0.650,0.655,0.650,0.645,0.655,0.650,0.648,0.645]
f3_lophine4 = [0.700,0.640,0.640,0.635,0.620,0.620,0.620,0.625,0.620,0.615,
               0.625,0.615,0.620,0.625,0.620,0.615,0.615,0.620,0.620,0.615,
               0.625,0.605,0.605,0.615,0.618,0.625,0.625,0.620,0.615,0.640,
               0.625,0.618,0.620,0.625,0.615,0.625,0.620,0.615,0.625,0.620,
               0.618,0.622,0.625,0.618,0.620,0.625,0.618,0.630,0.620,0.645,
               0.640,0.625,0.620,0.618,0.615,0.620,0.625,0.618,0.615,0.620]
f3_lophine5 = [0.690,0.640,0.640,0.645,0.625,0.620,0.622,0.618,0.620,0.625,
               0.618,0.625,0.620,0.622,0.615,0.620,0.622,0.620,0.618,0.625,
               0.620,0.615,0.620,0.618,0.622,0.620,0.625,0.615,0.620,0.640,
               0.618,0.622,0.620,0.615,0.620,0.618,0.625,0.620,0.618,0.625,
               0.620,0.622,0.618,0.628,0.620,0.618,0.622,0.620,0.625,0.618,
               0.620,0.625,0.622,0.630,0.620,0.625,0.618,0.620,0.622,0.620]

d1 = [d1_control, d1_lucigenin, d1_luminol, d1_lophine, d1_lophine1, d1_lophine2, d1_lophine3, d1_lophine4, d1_lophine5]
d2 = [d2_control, d2_lucigenin, d2_luminol, d2_lophine, d2_lophine1, d2_lophine2, d2_lophine3, d2_lophine4, d2_lophine5]
d3 = [d3_control, d3_lucigenin, d3_luminol, d3_lophine, d3_lophine1, d3_lophine2, d3_lophine3, d3_lophine4, d3_lophine5]
e1 = [e1_control, e1_lucigenin, e1_luminol, e1_lophine, e1_lophine1, e1_lophine2, e1_lophine3, e1_lophine4, e1_lophine5]
e2 = [e2_control, e2_lucigenin, e2_luminol, e2_lophine, e2_lophine1, e2_lophine2, e2_lophine3, e2_lophine4, e2_lophine5]
e3 = [e3_control, e3_lucigenin, e3_luminol, e3_lophine, e3_lophine1, e3_lophine2, e3_lophine3, e3_lophine4, e3_lophine5]
f1 = [f1_control, f1_lucigenin, f1_luminol, f1_lophine, f1_lophine1, f1_lophine2, f1_lophine3, f1_lophine4, f1_lophine5]
f2 = [f2_control, f2_lucigenin, f2_luminol, f2_lophine, f2_lophine1, f2_lophine2, f2_lophine3, f2_lophine4, f2_lophine5]
f3 = [f3_control, f3_lucigenin, f3_luminol, f3_lophine, f3_lophine1, f3_lophine2, f3_lophine3, f3_lophine4, f3_lophine5]

cap_gsh = r"pH %s+GSH (5.10$^{-4}$M)+H$_2$O$_2$ (1.5%%)+peroxidase (9459U)+activator (10$^{-4}$M)"
cap_asc = r"pH %s+asorbic acid (5.10$^{-4}$M)+FeSO4(5.10$^{-4}$M)+H$_2$O$_2$ (1.5%%)+activator (10$^{-4}$M)"
cap_nad = r"pH %s+NAD.H(10$^{-4}$M)+FMS(10$^{-6}$M)+activator (10$^{-4}$M)"

fig = plt.figure(figsize=(W / 100, H / 100), dpi=100)


def rect(x0, y0, x1, y1):
    return [x0 / W, 1 - y1 / H, (x1 - x0) / W, (y1 - y0) / H]


def fx(x):
    return x / W


def fy(y):
    return 1 - y / H


def style(ax, ylim, ymaj, ymin, bottom=True):
    ax.set_xlim(0, 180)
    ax.set_ylim(*ylim)
    ax.spines['top'].set_visible(False)
    ax.spines['right'].set_visible(False)
    for s in ['left', 'bottom']:
        ax.spines[s].set_linewidth(0.7)
    ax.xaxis.set_major_locator(MultipleLocator(20))
    ax.xaxis.set_minor_locator(MultipleLocator(10))
    ax.yaxis.set_major_locator(MultipleLocator(ymaj))
    ax.yaxis.set_minor_locator(MultipleLocator(ymin))
    ax.tick_params(which='both', direction='out', labelsize=6.4, width=0.6, pad=1.5)
    ax.tick_params(which='major', length=3)
    ax.tick_params(which='minor', length=1.6)
    ax.patch.set_alpha(0)
    if not bottom:
        ax.spines['bottom'].set_visible(False)
        ax.tick_params(axis='x', which='both', bottom=False, labelbottom=False)


def draw(ax, data):
    for v, c, m, s, n in zip(data, colors, markers, msizes, names):
        t = np.arange(len(v)) * 3
        ax.plot(t, v, color=c, marker=m, ms=s, mew=0, lw=0.55, label=n)


def brk(x, y):
    for dy in (-2.5, 2.5):
        fig.add_artist(Line2D([fx(x - 5), fx(x + 5)], [fy(y + dy + 3), fy(y + dy - 3)],
                              color='k', lw=0.7))


ax_for_legend = []


def texts(tag, box, tag_xy, ylab_xy, leg_xy, cap, cap_xy):
    x0, y0, x1, y1 = box
    fig.text(fx(tag_xy[0]), fy(tag_xy[1]), tag, fontsize=18, fontweight='bold',
             ha='left', va='top')
    fig.text(fx(ylab_xy[0]), fy(ylab_xy[1]), 'chemiluminescence [mV]', fontsize=7.8,
             rotation=90, ha='center', va='top')
    fig.text(fx(x1 + 2), fy(y1 + 22), 'time [s]', fontsize=8, ha='right', va='center')
    fig.text(fx(cap_xy[0]), fy(cap_xy[1]), cap, fontsize=7.7, ha='center', va='center')
    fig.legend(*ax_for_legend[-1].get_legend_handles_labels(), loc='upper left',
               bbox_to_anchor=(fx(leg_xy[0]), fy(leg_xy[1])), borderaxespad=0,
               fontsize=7.7, fancybox=False, edgecolor='#808080', framealpha=1,
               labelspacing=0.27, handlelength=2.4, handletextpad=0.4,
               borderpad=0.45)


def single(tag, data, box, ylim, ymaj, ymin, tag_xy, ylab_xy, leg_xy, cap, cap_xy):
    ax = fig.add_axes(rect(*box))
    draw(ax, data)
    style(ax, ylim, ymaj, ymin)
    ax_for_legend.append(ax)
    texts(tag, box, tag_xy, ylab_xy, leg_xy, cap, cap_xy)


def broken(tag, data, x0, x1, up, lo, tag_xy, ylab_xy, leg_xy, cap, cap_xy):
    axu = fig.add_axes(rect(x0, up[0], x1, up[1]))
    draw(axu, data)
    style(axu, up[2], up[3], up[4], bottom=False)
    axl = fig.add_axes(rect(x0, lo[0], x1, lo[1]))
    draw(axl, data)
    style(axl, lo[2], lo[3], lo[4])
    brk(x0, (up[1] + lo[0]) / 2)
    ax_for_legend.append(axl)
    texts(tag, (x0, up[0], x1, lo[1]), tag_xy, ylab_xy, leg_xy, cap, cap_xy)


single('d1', d1, (61, 49, 345, 277), (0.65, 1.37), 0.05, 0.025,
       (36, 16), (28, 50), (317, 14), cap_gsh % '3.5', (196, 314))
single('d2', d2, (493, 45, 780, 276), (0, 58), 5, 2.5,
       (467, 15), (468, 42), (752, 12), cap_gsh % '7.4', (635, 314))
broken('d3', d3, 953, 1243, (44, 158, (1100, 1250), 20, 10), (166, 277, (0, 131), 20, 10),
       (919, 15), (915, 45), (1208, 83), cap_gsh % '8.5', (1092, 312))

single('e1', e1, (60, 397, 338, 621), (0.6, 2.5), 0.2, 0.1,
       (29, 365), (33, 397), (308, 366), cap_asc % '3.5', (190, 661))
single('e2', e2, (492, 401, 768, 623), (0, 20), 2, 1,
       (460, 365), (467, 400), (742, 368), cap_asc % '7.4', (620, 659))
broken('e3', e3, 953, 1227, (401, 506, (723.3, 735), 5, 2.5), (513, 622, (0, 15), 2, 1),
       (912, 361), (920, 398), (1202, 434), cap_asc % '8.5', (1080, 663))

single('f1', f1, (61, 755, 351, 988), (0.6, 1.12), 0.05, 0.025,
       (27, 716), (28, 753), (323, 719), cap_nad % '3.5', (194, 1027))
single('f2', f2, (494, 751, 787, 986), (0.6, 2.1), 0.2, 0.1,
       (465, 715), (467, 750), (759, 715), cap_nad % '7.4', (633, 1023))
broken('f3', f3, 953, 1246, (749, 867, (12.85, 20), 1, 0.5), (873, 985, (0.6, 0.89), 0.2, 0.1),
       (923, 710), (925, 748), (1218, 714), cap_nad % '8.5', (1097, 1025))

fig.savefig('out.png', dpi=100)
